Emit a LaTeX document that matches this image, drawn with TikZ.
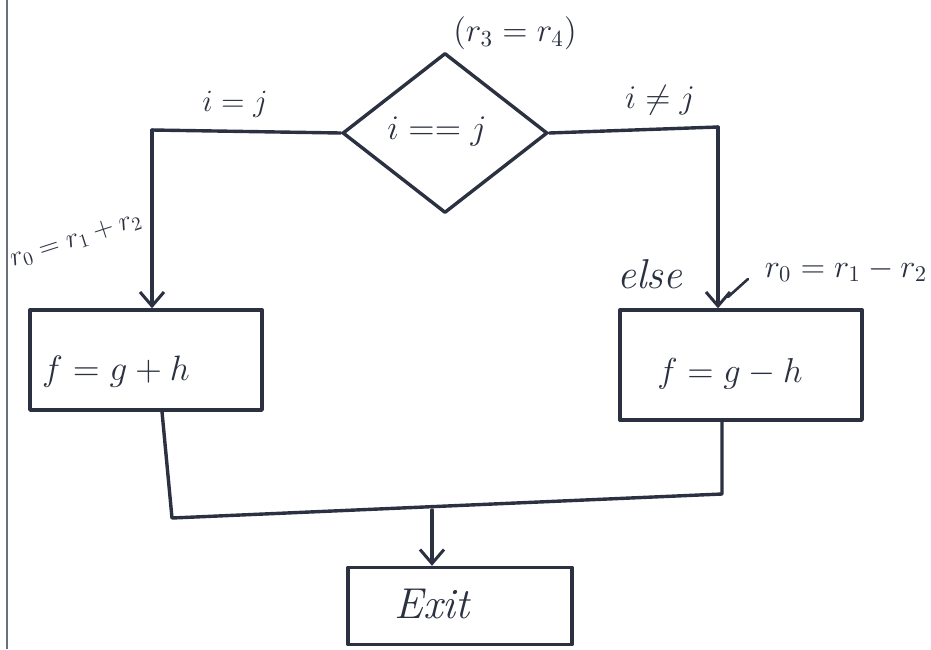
\documentclass[tikz,border=0pt]{standalone}
\usetikzlibrary{shapes.geometric,arrows.meta}
\definecolor{ink}{HTML}{2B3140}
\newcommand{\sx}[2]{\scalebox{#1}{\Large #2}}
\begin{document}
\begin{tikzpicture}[x=1pt,y=-1pt,
  every node/.style={text=ink,inner sep=1pt},
  stroke/.style={draw=ink,line width=3.4pt,line cap=round,line join=round},
  boxnode/.style={stroke,rectangle,inner sep=0pt},
  arr/.style={stroke,-{Straight Barb[length=14pt,width=24pt,line width=3pt]}}]
\fill[white] (0,0) rectangle (931,649);
\useasboundingbox (0,0) rectangle (931,649);
\draw[ink!70,line width=1.5pt] (7,0) -- (7,649);
% diamond
\node[stroke,diamond,minimum width=205pt,minimum height=160pt,inner sep=0pt] (d) at (445,133) {};
\node (dt) at (437,132) {\sx{2.4}{$i==j$}};
\node (top) at (515,33) {\sx{2.3}{$(r_3=r_4)$}};
% boxes
\node[boxnode,minimum width=232pt,minimum height=100pt] (L) at (146,360) {};
\node (Lt) at (116,372) {\sx{2.45}{$f=g+h$}};
\node[boxnode,minimum width=242pt,minimum height=110pt] (R) at (741,365) {};
\node (Rt) at (730,374) {\sx{2.4}{$f=g-h$}};
\node (Et) at (432,604) {\sx{3.0}{\itshape Exit}};
\node[boxnode,minimum width=224pt,minimum height=77pt] (E) at (460,606) {};
% labels
\node (lij) at (235,104) {\sx{2.15}{$i=j$}};
\node (rij) at (660,100) {\sx{2.3}{$i\neq j$}};
\node[rotate=18] (lr) at (76,240) {\sx{1.9}{$r_0=r_1+r_2$}};
\node (el) at (650,274) {\sx{2.9}{\itshape else}};
\node (rr) at (846,270) {\sx{2.25}{$r_0=r_1-r_2$}};
% connectors
\coordinate (lc) at (152,130);
\coordinate (rc) at (718,127);
\draw[stroke] (d.west) -- (lc);
\draw[arr] (lc) -- (lc |- L.north);
\draw[stroke] (d.east) -- (rc);
\draw[arr] (rc) -- (rc |- R.north);
\draw[stroke,line width=2.6pt] (748,279) -- (728,297);
\coordinate (m1) at (172,518);
\coordinate (m2) at (722,494);
\draw[stroke] ([xshift=16pt]L.south) -- (m1) -- (m2) -- (m2 |- R.south);
\coordinate (mx) at (432,510);
\draw[arr] (mx) -- (mx |- E.north);
\end{tikzpicture}
\end{document}
